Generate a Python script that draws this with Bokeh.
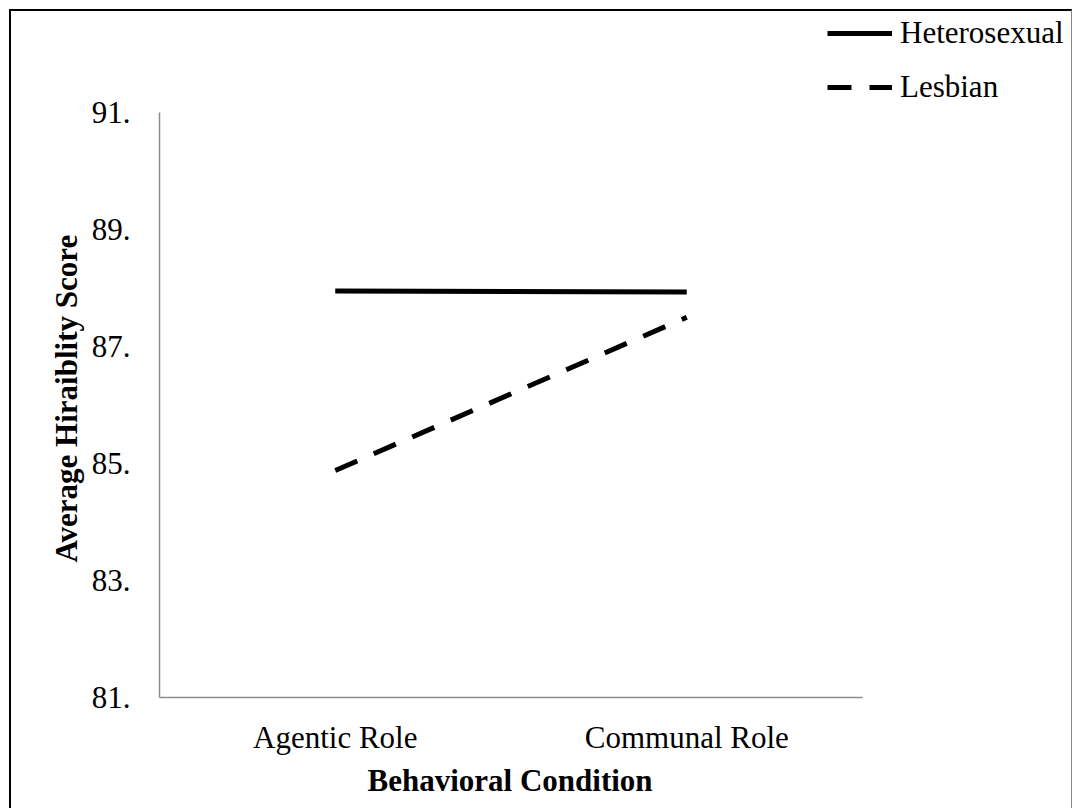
from bokeh.plotting import figure
from bokeh.models import Range1d, FixedTicker, Legend, LegendItem, Title
from bokeh.embed import file_html
from bokeh.resources import INLINE

conditions = ["Agentic Role", "Communal Role"]
cond_pos = [0.5, 1.5]
heterosexual = [87.95, 87.93]
lesbian = [84.88, 87.50]
y_ticks = [81, 83, 85, 87, 89, 91]
y_tick_labels = ["81.", "83.", "85.", "87.", "89.", "91."]

FONT = "Liberation Serif"

# frame extends above/right of the axes so the legend fits inside it
p = figure(width=1063, height=799, x_range=Range1d(0, 2.603),
           y_range=Range1d(81, 92.726), output_backend="svg", toolbar_location=None,
           min_border_left=148, min_border_right=0, min_border_top=0,
           min_border_bottom=113)
p.styles = {"margin-left": "9px", "margin-top": "9px",
            "border-left": "2px solid black", "border-top": "2px solid black",
            "border-right": "1px solid #888888"}
p.outline_line_color = None
p.xgrid.grid_line_color = None
p.ygrid.grid_line_color = None

r1 = p.line(cond_pos, heterosexual, line_color="black", line_width=5)
r2 = p.line(cond_pos, lesbian, line_color="black", line_width=5, line_dash="24 18")

for ax in (p.xaxis[0], p.yaxis[0]):
    ax.axis_line_color = "#8c8c8c"
    ax.axis_line_width = 1.5
    ax.major_tick_line_color = None
    ax.minor_tick_line_color = None
    ax.major_tick_out = 0
    ax.major_tick_in = 0
    ax.major_label_text_font = FONT
    ax.major_label_text_font_size = "31px"
    ax.major_label_text_color = "black"

p.yaxis.ticker = FixedTicker(ticks=y_ticks)
p.yaxis.major_label_overrides = dict(zip(y_ticks, y_tick_labels))
p.yaxis.major_label_standoff = 29
p.yaxis.bounds = (81, 91)

p.xaxis.ticker = FixedTicker(ticks=cond_pos)
p.xaxis.major_label_overrides = dict(zip(cond_pos, conditions))
p.xaxis.major_label_standoff = 22
p.xaxis.bounds = (0, 2)

x_title = Title(text="Behavioral Condition", align="left", offset=208,
                text_font=FONT, text_font_size="31px", text_font_style="bold",
                text_color="black", standoff=6)
p.add_layout(x_title, "below")

y_title = Title(text="Average Hiraiblity Score", align="left", offset=135,
                text_font=FONT, text_font_size="31px", text_font_style="bold",
                text_color="black", standoff=9)
p.add_layout(y_title, "left")

legend = Legend(items=[LegendItem(label="Heterosexual", renderers=[r1]),
                       LegendItem(label="Lesbian", renderers=[r2])],
                location=(668, 590), orientation="vertical",
                glyph_width=65, glyph_height=40, spacing=14, padding=0, margin=0,
                label_standoff=8, label_text_font=FONT, label_text_font_size="31px",
                label_text_color="black", border_line_color=None,
                background_fill_alpha=0)
p.add_layout(legend, "center")

open("out.html", "w").write(file_html(p, INLINE))
